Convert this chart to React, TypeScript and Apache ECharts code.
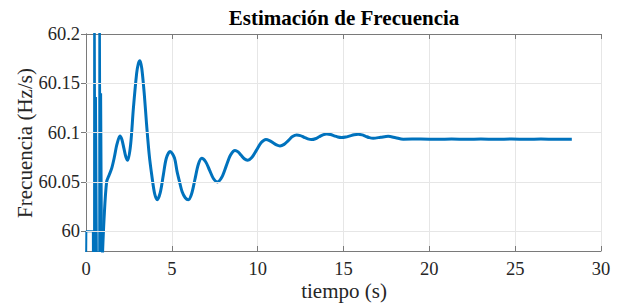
import React, { useEffect, useRef } from "react";
import * as echarts from "echarts";

// early transient (off-scale spikes)
const spikeTime = [0, 0.02, 0.4, 0.41, 0.47, 0.48, 0.55, 0.58, 0.64, 0.77, 0.78, 0.85, 0.88, 0.94];
const spikeFreq = [59.95, 60.0, 60.0, 59.95, 59.95, 60.4, 59.95, 60.136, 59.95, 59.95, 60.4, 59.95, 60.14, 59.95];

// smooth estimation (time in s, frequency in Hz)
const timeS = [
  0.95, 1.05, 1.2, 1.35, 1.5, 1.65, 1.8, 1.98,
  2.09, 2.205, 2.32, 2.43, 2.6, 2.76, 2.95, 3.05, 3.14,
  3.25, 3.4, 3.53, 3.68, 3.83, 4.0, 4.15,
  4.325, 4.5, 4.675, 4.9,
  5.15, 5.3, 5.45, 5.6, 5.78, 5.96,
  6.155, 6.35, 6.545, 6.74,
  6.97, 7.195, 7.42, 7.65,
  7.91, 8.165, 8.42, 8.68,
  8.86, 9.04, 9.22, 9.4,
  9.67, 9.94, 10.21, 10.48,
  10.685, 10.89, 11.095, 11.3,
  11.54, 11.785, 12.03, 12.27,
  12.49, 12.705, 12.92, 13.14,
  13.36, 13.58, 13.8, 14.02,
  14.24, 14.455, 14.67, 14.89,
  15.13, 15.375, 15.62, 15.86,
  16.08, 16.295, 16.51, 16.73,
  17.165, 17.6, 18.04, 18.48,
  19.5, 20.5, 21.3, 22.2, 23.0, 23.9, 24.8, 25.7, 26.5, 27.4, 28.3,
];
const freqHz = [
  59.972, 60.012, 60.05, 60.057, 60.064, 60.075, 60.088, 60.0966,
  60.093, 60.0843, 60.0756, 60.072, 60.088, 60.1245, 60.16, 60.17, 60.173,
  60.165, 60.138, 60.108, 60.078, 60.057, 60.038, 60.032,
  60.0392, 60.0565, 60.0738, 60.081,
  60.0745, 60.061, 60.05, 60.04, 60.034, 60.032,
  60.0381, 60.053, 60.0679, 60.074,
  60.0705, 60.062, 60.0535, 60.05,
  60.0547, 60.066, 60.0773, 60.082,
  60.0805, 60.077, 60.0735, 60.072,
  60.0751, 60.0825, 60.0899, 60.093,
  60.092, 60.0898, 60.0875, 60.0865,
  60.0881, 60.092, 60.096, 60.0976,
  60.097, 60.0953, 60.0937, 60.093,
  60.0938, 60.0958, 60.0978, 60.0986,
  60.0981, 60.0968, 60.0955, 60.095,
  60.0955, 60.0967, 60.0978, 60.0983,
  60.0977, 60.0963, 60.0949, 60.0943,
  60.0953, 60.0963, 60.0948, 60.0933,
  60.0936, 60.0932, 60.0935, 60.0932, 60.0936, 60.0932, 60.0935, 60.0932, 60.0936, 60.0932, 60.0933,
];

const xTicks = [0, 5, 10, 15, 20, 25, 30];
const yTicks = [60, 60.05, 60.1, 60.15, 60.2];

const titleText = "Estimación de Frecuencia";
const xName = "tiempo (s)";
const yName = "Frecuencia (Hz/s)";

const FONT = "Liberation Serif";
const AXIS_COLOR = "#7a7a7a";
const GRID_COLOR = "#e6e6e6";
const LINE_COLOR = "#0072BD";

export default function App() {
  const ref = useRef<HTMLDivElement>(null);
  useEffect(() => {
    if (!ref.current) return;
    const chart = echarts.init(ref.current, null, { renderer: "svg" });
    const fmt = (v: number) => String(Number(v.toFixed(2)));
    const tickStyle = { show: true, inside: true, length: 5, lineStyle: { color: AXIS_COLOR, width: 1 } };
    const axisLine = { show: true, lineStyle: { color: AXIS_COLOR, width: 1 } };
    chart.setOption({
      animation: false,
      backgroundColor: "#ffffff",
      grid: { left: 86, right: 19, top: 34, bottom: 52 },
      xAxis: [
        {
          type: "value",
          min: xTicks[0],
          max: xTicks[xTicks.length - 1],
          interval: 5,
          axisLine,
          axisTick: tickStyle,
          axisLabel: { color: "#262626", fontFamily: FONT, fontSize: 18.5, margin: 8 },
          splitLine: { show: true, lineStyle: { color: GRID_COLOR, width: 1 } },
        },
        {
          type: "value",
          position: "top",
          min: xTicks[0],
          max: xTicks[xTicks.length - 1],
          interval: 5,
          axisLine,
          axisTick: tickStyle,
          axisLabel: { show: false },
          splitLine: { show: false },
        },
      ],
      yAxis: [
        {
          type: "value",
          min: 59.98,
          max: 60.2,
          axisLine,
          axisTick: { ...tickStyle, customValues: yTicks },
          axisLabel: { color: "#262626", fontFamily: FONT, fontSize: 18.5, margin: 6, customValues: yTicks, formatter: fmt },
          splitLine: { show: false },
        },
        {
          type: "value",
          position: "right",
          min: 59.98,
          max: 60.2,
          axisLine,
          axisTick: { ...tickStyle, customValues: yTicks },
          axisLabel: { show: false },
          splitLine: { show: false },
        },
      ],
      graphic: [
        {
          type: "text",
          x: 344,
          y: 18,
          style: { text: titleText, fontFamily: FONT, fontWeight: "bold", fontSize: 21, fill: "#000", align: "center", verticalAlign: "middle" },
        },
        {
          type: "text",
          x: 344,
          y: 291,
          style: { text: xName, fontFamily: FONT, fontSize: 21, fill: "#262626", align: "center", verticalAlign: "middle" },
        },
        {
          type: "text",
          x: 25,
          y: 143,
          rotation: Math.PI / 2,
          style: { text: yName, fontFamily: FONT, fontSize: 21, fill: "#262626", align: "center", verticalAlign: "middle" },
        },
      ],
      series: [
        {
          type: "line",
          z: 0,
          data: [[0, 60.1]],
          showSymbol: false,
          lineStyle: { width: 0 },
          silent: true,
          markLine: {
            silent: true,
            symbol: "none",
            label: { show: false },
            lineStyle: { color: GRID_COLOR, type: "solid", width: 1 },
            data: yTicks.slice(0, 4).map((v) => ({ yAxis: v })),
          },
        },
        {
          type: "line",
          z: 3,
          data: spikeTime.map((t, i) => [t, spikeFreq[i]]),
          showSymbol: false,
          clip: true,
          lineStyle: { color: LINE_COLOR, width: 2 },
        },
        {
          type: "line",
          z: 3,
          data: timeS.map((t, i) => [t, freqHz[i]]),
          showSymbol: false,
          smooth: 0.3,
          clip: true,
          lineStyle: { color: LINE_COLOR, width: 3 },
        },
      ],
    });
    return () => chart.dispose();
  }, []);
  return <div ref={ref} style={{ position: "fixed", left: 0, top: 0, width: 620, height: 303 }} />;
}
